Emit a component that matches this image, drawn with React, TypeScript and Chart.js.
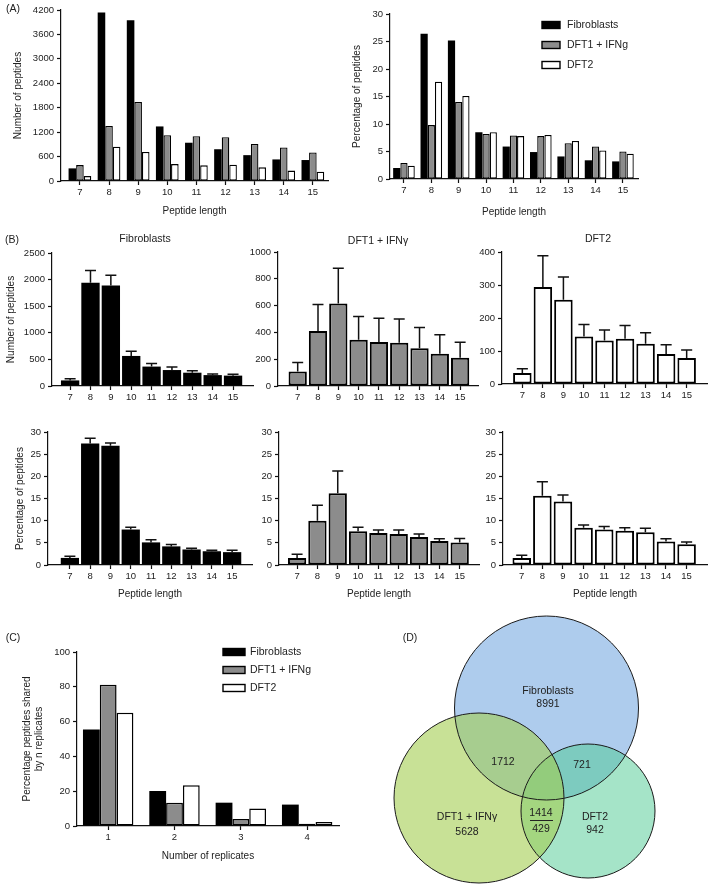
import React, { useEffect, useRef } from 'react';
import { Chart, registerables } from 'chart.js';

Chart.register(...registerables);

const FONT = "'Liberation Sans', Arial, Helvetica, sans-serif";
const TEXT = '#222222';
const AXIS = '#111111';
const BLACK = '#000000';
const GRAY = '#8c8c8c';
const WHITE = '#ffffff';

// ---------------- Data ----------------
const peptideLengths = [7, 8, 9, 10, 11, 12, 13, 14, 15];
const seriesLabels = ['Fibroblasts', 'DFT1 + IFNg', 'DFT2'];

// (A) pooled number of peptides
const countFibroblasts = [310, 4140, 3950, 1340, 940, 780, 635, 530, 515];
const countDft1 = [390, 1350, 1940, 1125, 1100, 1075, 910, 825, 700];
const countDft2 = [120, 840, 715, 415, 385, 400, 335, 255, 228];

// (A) percentage of peptides
const pctFibroblasts = [2.0, 26.4, 25.2, 8.5, 5.9, 4.9, 4.1, 3.4, 3.2];
const pctDft1 = [2.9, 9.8, 14.0, 8.2, 7.9, 7.8, 6.5, 5.9, 5.0];
const pctDft2 = [2.4, 17.7, 15.1, 8.5, 7.8, 8.0, 6.9, 5.2, 4.6];

// (B) mean number of peptides per replicate, with upper error values
const bCountFib = [105, 1940, 1890, 565, 365, 300, 250, 205, 195];
const bCountFibErr = [135, 2170, 2080, 655, 425, 355, 285, 225, 220];
const bCountDft1 = [108, 410, 615, 345, 328, 322, 281, 241, 210];
const bCountDft1Err = [175, 608, 878, 518, 505, 500, 437, 382, 327];
const bCountDft2 = [33, 294, 255, 144, 132, 137, 122, 91, 79];
const bCountDft2Err = [46, 389, 324, 180, 164, 177, 155, 119, 103];

// (B) mean percentage of peptides, with upper error values
const bPctFib = [1.6, 27.4, 26.9, 8.0, 5.1, 4.2, 3.5, 3.1, 2.9];
const bPctFibErr = [2.0, 28.6, 27.5, 8.5, 5.7, 4.6, 3.8, 3.3, 3.3];
const bPctDft1 = [1.6, 10.0, 16.2, 7.6, 7.2, 7.0, 6.3, 5.4, 5.1];
const bPctDft1Err = [2.4, 13.5, 21.2, 8.5, 7.9, 7.9, 7.0, 5.9, 6.0];
const bPctDft2 = [1.6, 15.6, 14.3, 8.4, 8.0, 7.7, 7.4, 5.3, 4.7];
const bPctDft2Err = [2.2, 18.8, 15.8, 9.0, 8.7, 8.4, 8.3, 5.9, 5.2];

// (C) percentage of peptides shared by n replicates
const replicates = [1, 2, 3, 4];
const sharedFib = [55.4, 20.1, 13.4, 12.3];
const sharedDft1 = [81.2, 13.4, 4.0, 1.3];
const sharedDft2 = [65.1, 23.4, 10.0, 2.3];

// (D) Venn counts
const vennSetLabels = ['Fibroblasts', 'DFT1 + IFN\u03b3', 'DFT2'];
const vennUniqueCounts = [8991, 5628, 942];
const vennPairCounts = [1712, 721]; // Fibroblasts∩DFT1, Fibroblasts∩DFT2
const vennCentreCounts = [1414, 429];

// ---------------- Layout (not data) ----------------
const vennCircleLayout = [
  { x: 166.5, y: 108, r: 92, fill: 'rgba(120,170,225,0.6)', order: 3 },
  { x: 99, y: 198, r: 85, fill: 'rgba(163,205,80,0.6)', order: 1 },
  { x: 208, y: 211, r: 67, fill: 'rgba(75,201,145,0.5)', order: 2 },
];

type Box = { left: number; top: number; width: number; height: number };
type Area = { l: number; t: number; r: number; b: number };

const TICK_FONT = { family: FONT, size: 9.5 };
const TITLE_FONT = { family: FONT, size: 10 };
const LABEL_SIZE = 10.5;

const pts = (xs: number[], ys: number[]) => xs.map((x, i) => ({ x, y: ys[i] }));

// ---------------- Plugins ----------------
const errorBarPlugin = {
  id: 'errorBars',
  afterDatasetsDraw(chart: any) {
    const ctx = chart.ctx;
    const yScale = chart.scales.y;
    chart.data.datasets.forEach((ds: any, di: number) => {
      if (!ds.errorBars) return;
      const meta = chart.getDatasetMeta(di);
      meta.data.forEach((bar: any, i: number) => {
        const top = yScale.getPixelForValue(ds.errorBars[i]);
        const half = bar.width * 0.3;
        ctx.save();
        ctx.strokeStyle = AXIS;
        ctx.lineWidth = 1.5;
        ctx.beginPath();
        ctx.moveTo(bar.x, bar.y);
        ctx.lineTo(bar.x, top);
        ctx.moveTo(bar.x - half, top);
        ctx.lineTo(bar.x + half, top);
        ctx.stroke();
        ctx.restore();
      });
    });
  },
};

const boxLegendPlugin = {
  id: 'boxLegend',
  afterDraw(chart: any, _args: any, opts: any) {
    if (!opts || !opts.display) return;
    const ctx = chart.ctx;
    ctx.save();
    chart.data.datasets.forEach((ds: any, i: number) => {
      const cy = opts.y + i * opts.rowH;
      ctx.fillStyle = ds.backgroundColor;
      ctx.fillRect(opts.x, cy - opts.boxH / 2, opts.boxW, opts.boxH);
      ctx.strokeStyle = BLACK;
      ctx.lineWidth = 1.4;
      ctx.strokeRect(opts.x, cy - opts.boxH / 2, opts.boxW, opts.boxH);
      ctx.fillStyle = TEXT;
      ctx.font = `${LABEL_SIZE}px ${FONT}`;
      ctx.textBaseline = 'middle';
      ctx.textAlign = 'left';
      ctx.fillText(ds.label, opts.x + opts.boxW + opts.gap, cy);
    });
    ctx.restore();
  },
};

const vennPlugin = {
  id: 'vennText',
  afterDatasetsDraw(chart: any) {
    const { ctx } = chart;
    const xs = chart.scales.x;
    const ys = chart.scales.y;
    ctx.save();
    ctx.strokeStyle = '#1a1a1a';
    ctx.lineWidth = 1;
    chart.getSortedVisibleDatasetMetas().forEach((meta: any) => {
      meta.data.forEach((pt: any) => {
        ctx.beginPath();
        ctx.arc(pt.x, pt.y, pt.options.radius, 0, Math.PI * 2);
        ctx.stroke();
      });
    });
    ctx.fillStyle = TEXT;
    ctx.font = `${LABEL_SIZE}px ${FONT}`;
    ctx.textAlign = 'center';
    ctx.textBaseline = 'middle';
    const put = (t: string | number, x: number, y: number) =>
      ctx.fillText(String(t), xs.getPixelForValue(x), ys.getPixelForValue(y));
    put(vennSetLabels[0], 168, 91);
    put(vennUniqueCounts[0], 168, 104.5);
    put(vennSetLabels[1], 87, 217);
    put(vennUniqueCounts[1], 87, 232);
    put(vennSetLabels[2], 215, 217);
    put(vennUniqueCounts[2], 215, 230);
    put(vennPairCounts[0], 123, 162);
    put(vennPairCounts[1], 202, 165);
    put(vennCentreCounts[0], 161, 213);
    put(vennCentreCounts[1], 161, 229);
    ctx.beginPath();
    ctx.moveTo(xs.getPixelForValue(150), ys.getPixelForValue(220.5));
    ctx.lineTo(xs.getPixelForValue(173), ys.getPixelForValue(220.5));
    ctx.strokeStyle = TEXT;
    ctx.stroke();
    ctx.restore();
  },
};

// ---------------- Config builders ----------------
type BarParams = {
  box: Box;
  area: Area;
  datasets: any[];
  categories: number[];
  xMin: number;
  xMax: number;
  yMax: number;
  yStep: number;
  xTitle?: string;
  xTitleY?: number;
  yTitle?: string | string[];
  yTitleX?: number;
  catPct: number;
  barPct: number;
  legend?: { x: number; y: number; boxW: number; boxH: number; rowH: number; gap: number };
};

function barConfig(p: BarParams) {
  const { box, area } = p;
  const half = (TITLE_FONT.size * 1.2) / 2;
  const gridOpts = {
    display: true,
    drawOnChartArea: false,
    drawTicks: true,
    offset: false,
    tickLength: 4,
    tickColor: AXIS,
    tickWidth: 1.2,
    color: AXIS,
  };
  return {
    type: 'bar',
    data: {
      datasets: p.datasets.map((d) => ({
        borderSkipped: false,
        categoryPercentage: p.catPct,
        barPercentage: p.barPct,
        ...d,
      })),
    },
    options: {
      responsive: false,
      animation: false,
      events: [],
      layout: {
        padding: { left: 0, bottom: 0, top: area.t - box.top, right: box.left + box.width - area.r },
      },
      plugins: {
        legend: { display: false },
        tooltip: { enabled: false },
        title: { display: false },
        boxLegend: p.legend ? { display: true, ...p.legend } : { display: false },
      },
      scales: {
        x: {
          type: 'linear',
          min: p.xMin,
          max: p.xMax,
          offset: false,
          afterBuildTicks: (s: any) => {
            s.ticks = p.categories.map((v) => ({ value: v }));
          },
          afterFit: (s: any) => {
            s.height = box.top + box.height - area.b;
          },
          ticks: {
            autoSkip: false,
            maxRotation: 0,
            color: TEXT,
            font: TICK_FONT,
            padding: 2,
            callback: (v: any) => `${v}`,
          },
          grid: gridOpts,
          border: { display: true, color: AXIS, width: 1.2 },
          title: p.xTitle
            ? {
                display: true,
                text: p.xTitle,
                color: TEXT,
                font: TITLE_FONT,
                padding: { top: 0, bottom: box.top + box.height - (p.xTitleY as number) - half },
              }
            : { display: false },
        },
        y: {
          type: 'linear',
          min: 0,
          max: p.yMax,
          afterFit: (s: any) => {
            s.width = area.l - box.left;
          },
          ticks: {
            stepSize: p.yStep,
            color: TEXT,
            font: TICK_FONT,
            padding: 3,
            callback: (v: any) => `${v}`,
          },
          grid: gridOpts,
          border: { display: true, color: AXIS, width: 1.2 },
          title: p.yTitle
            ? {
                display: true,
                text: p.yTitle,
                color: TEXT,
                font: TITLE_FONT,
                padding: { top: (p.yTitleX as number) - box.left - half, bottom: 0 },
              }
            : { display: false },
        },
      },
    },
    plugins: [errorBarPlugin, boxLegendPlugin],
  };
}

const groupedSets = (a: number[], b: number[], c: number[], xs: number[], bw: number) => [
  { label: seriesLabels[0], data: pts(xs, a), backgroundColor: BLACK, borderColor: BLACK, borderWidth: 0 },
  { label: seriesLabels[1], data: pts(xs, b), backgroundColor: GRAY, borderColor: BLACK, borderWidth: bw },
  { label: seriesLabels[2], data: pts(xs, c), backgroundColor: WHITE, borderColor: BLACK, borderWidth: bw },
];

const singleSet = (vals: number[], errs: number[], color: string) => [
  {
    label: 'mean',
    data: pts(peptideLengths, vals),
    errorBars: errs,
    backgroundColor: color,
    borderColor: BLACK,
    borderWidth: color === BLACK ? 0 : 2,
  },
];

type ChartSpec = { key: string; box: Box; config: () => any };

const boxATL: Box = { left: 0, top: 0, width: 340, height: 222 };
const boxATR: Box = { left: 340, top: 0, width: 369, height: 222 };
const boxBF1: Box = { left: 0, top: 226, width: 262, height: 186 };
const boxBD1: Box = { left: 235, top: 226, width: 245, height: 186 };
const boxBE1: Box = { left: 460, top: 226, width: 249, height: 186 };
const boxBF2: Box = { left: 0, top: 420, width: 262, height: 180 };
const boxBD2: Box = { left: 235, top: 420, width: 245, height: 180 };
const boxBE2: Box = { left: 460, top: 420, width: 249, height: 180 };
const boxC: Box = { left: 0, top: 620, width: 360, height: 266 };
const boxD: Box = { left: 380, top: 600, width: 329, height: 286 };

const specs: ChartSpec[] = [
  {
    key: 'a-count',
    box: boxATL,
    config: () =>
      barConfig({
        box: boxATL,
        area: { l: 61, t: 10, r: 328, b: 181 },
        datasets: groupedSets(countFibroblasts, countDft1, countDft2, peptideLengths, 1.3),
        categories: peptideLengths,
        xMin: 6.35, xMax: 15.52, yMax: 4200, yStep: 600,
        xTitle: 'Peptide length', xTitleY: 211,
        yTitle: 'Number of peptides', yTitleX: 18,
        catPct: 0.78, barPct: 1,
      }),
  },
  {
    key: 'a-pct',
    box: boxATR,
    config: () =>
      barConfig({
        box: boxATR,
        area: { l: 390, t: 14, r: 638, b: 179 },
        datasets: groupedSets(pctFibroblasts, pctDft1, pctDft2, peptideLengths, 1.3),
        categories: peptideLengths,
        xMin: 6.49, xMax: 15.55, yMax: 30, yStep: 5,
        xTitle: 'Peptide length', xTitleY: 212,
        yTitle: 'Percentage of peptides', yTitleX: 357,
        catPct: 0.79, barPct: 1,
        legend: { x: 202, y: 25, boxW: 18, boxH: 7, rowH: 20, gap: 7 },
      }),
  },
  {
    key: 'b-fib-count',
    box: boxBF1,
    config: () =>
      barConfig({
        box: boxBF1,
        area: { l: 52, t: 253, r: 253, b: 386 },
        datasets: singleSet(bCountFib, bCountFibErr, BLACK),
        categories: peptideLengths,
        xMin: 6.11, xMax: 15.98, yMax: 2500, yStep: 500,
        yTitle: 'Number of peptides', yTitleX: 11,
        catPct: 1, barPct: 0.9,
      }),
  },
  {
    key: 'b-dft1-count',
    box: boxBD1,
    config: () =>
      barConfig({
        box: boxBD1,
        area: { l: 278, t: 252, r: 478, b: 386 },
        datasets: singleSet(bCountDft1, bCountDft1Err, GRAY),
        categories: peptideLengths,
        xMin: 6.03, xMax: 15.88, yMax: 1000, yStep: 200,
        catPct: 1, barPct: 0.9,
      }),
  },
  {
    key: 'b-dft2-count',
    box: boxBE1,
    config: () =>
      barConfig({
        box: boxBE1,
        area: { l: 502, t: 252, r: 707, b: 384 },
        datasets: singleSet(bCountDft2, bCountDft2Err, WHITE),
        categories: peptideLengths,
        xMin: 6.01, xMax: 15.99, yMax: 400, yStep: 100,
        catPct: 1, barPct: 0.9,
      }),
  },
  {
    key: 'b-fib-pct',
    box: boxBF2,
    config: () =>
      barConfig({
        box: boxBF2,
        area: { l: 48, t: 432, r: 252, b: 565 },
        datasets: singleSet(bPctFib, bPctFibErr, BLACK),
        categories: peptideLengths,
        xMin: 5.92, xMax: 15.98, yMax: 30, yStep: 5,
        xTitle: 'Peptide length', xTitleY: 594,
        yTitle: 'Percentage of peptides', yTitleX: 20,
        catPct: 1, barPct: 0.9,
      }),
  },
  {
    key: 'b-dft1-pct',
    box: boxBD2,
    config: () =>
      barConfig({
        box: boxBD2,
        area: { l: 279, t: 432, r: 479, b: 565 },
        datasets: singleSet(bPctDft1, bPctDft1Err, GRAY),
        categories: peptideLengths,
        xMin: 6.11, xMax: 15.95, yMax: 30, yStep: 5,
        xTitle: 'Peptide length', xTitleY: 594,
        catPct: 1, barPct: 0.9,
      }),
  },
  {
    key: 'b-dft2-pct',
    box: boxBE2,
    config: () =>
      barConfig({
        box: boxBE2,
        area: { l: 503, t: 432, r: 707, b: 565 },
        datasets: singleSet(bPctDft2, bPctDft2Err, WHITE),
        categories: peptideLengths,
        xMin: 6.09, xMax: 15.99, yMax: 30, yStep: 5,
        xTitle: 'Peptide length', xTitleY: 594,
        catPct: 1, barPct: 0.9,
      }),
  },
  {
    key: 'c-shared',
    box: boxC,
    config: () =>
      barConfig({
        box: boxC,
        area: { l: 77, t: 652, r: 339, b: 826 },
        datasets: groupedSets(sharedFib, sharedDft1, sharedDft2, replicates, 1.5),
        categories: replicates,
        xMin: 0.53, xMax: 4.48, yMax: 100, yStep: 20,
        xTitle: 'Number of replicates', xTitleY: 856,
        yTitle: ['Percentage peptides shared', 'by n replicates'], yTitleX: 27,
        catPct: 0.76, barPct: 1,
        legend: { x: 223, y: 32, boxW: 22, boxH: 7, rowH: 18, gap: 5 },
      }),
  },
  {
    key: 'd-venn',
    box: boxD,
    config: () => ({
      type: 'bubble',
      data: {
        datasets: vennSetLabels.map((label, i) => ({
          label,
          order: vennCircleLayout[i].order,
          clip: false,
          data: [{ x: vennCircleLayout[i].x, y: vennCircleLayout[i].y, r: vennCircleLayout[i].r }],
          backgroundColor: vennCircleLayout[i].fill,
          borderWidth: 0,
        })),
      },
      options: {
        responsive: false,
        animation: false,
        events: [],
        layout: { padding: 0, autoPadding: false },
        plugins: { legend: { display: false }, tooltip: { enabled: false } },
        scales: {
          x: { type: 'linear', display: false, min: 0, max: boxD.width },
          y: { type: 'linear', display: false, min: 0, max: boxD.height, reverse: true },
        },
      },
      plugins: [vennPlugin],
    }),
  },
];

const textLabels = [
  { text: '(A)', x: 13, y: 8 },
  { text: '(B)', x: 12, y: 239 },
  { text: '(C)', x: 13, y: 637 },
  { text: '(D)', x: 410, y: 637 },
  { text: 'Fibroblasts', x: 145, y: 238 },
  { text: 'DFT1 + IFN\u03b3', x: 378, y: 240 },
  { text: 'DFT2', x: 598, y: 238 },
];

function ChartCanvas({ box, config }: { box: Box; config: () => any }) {
  const ref = useRef<HTMLCanvasElement | null>(null);
  useEffect(() => {
    if (!ref.current) return;
    const chart = new Chart(ref.current, config());
    return () => chart.destroy();
  }, []);
  return (
    <canvas
      ref={ref}
      width={box.width}
      height={box.height}
      style={{ position: 'absolute', left: box.left, top: box.top, width: box.width, height: box.height }}
    />
  );
}

export default function App() {
  return (
    <div
      style={{
        position: 'absolute',
        left: 0,
        top: 0,
        width: 709,
        height: 886,
        background: '#ffffff',
        overflow: 'hidden',
        fontFamily: FONT,
        color: TEXT,
      }}
    >
      {specs.map((s) => (
        <ChartCanvas key={s.key} box={s.box} config={s.config} />
      ))}
      {textLabels.map((t) => (
        <div
          key={t.text}
          style={{
            position: 'absolute',
            left: t.x,
            top: t.y,
            transform: 'translate(-50%, -50%)',
            fontSize: LABEL_SIZE,
            lineHeight: 1,
            whiteSpace: 'nowrap',
          }}
        >
          {t.text}
        </div>
      ))}
    </div>
  );
}
